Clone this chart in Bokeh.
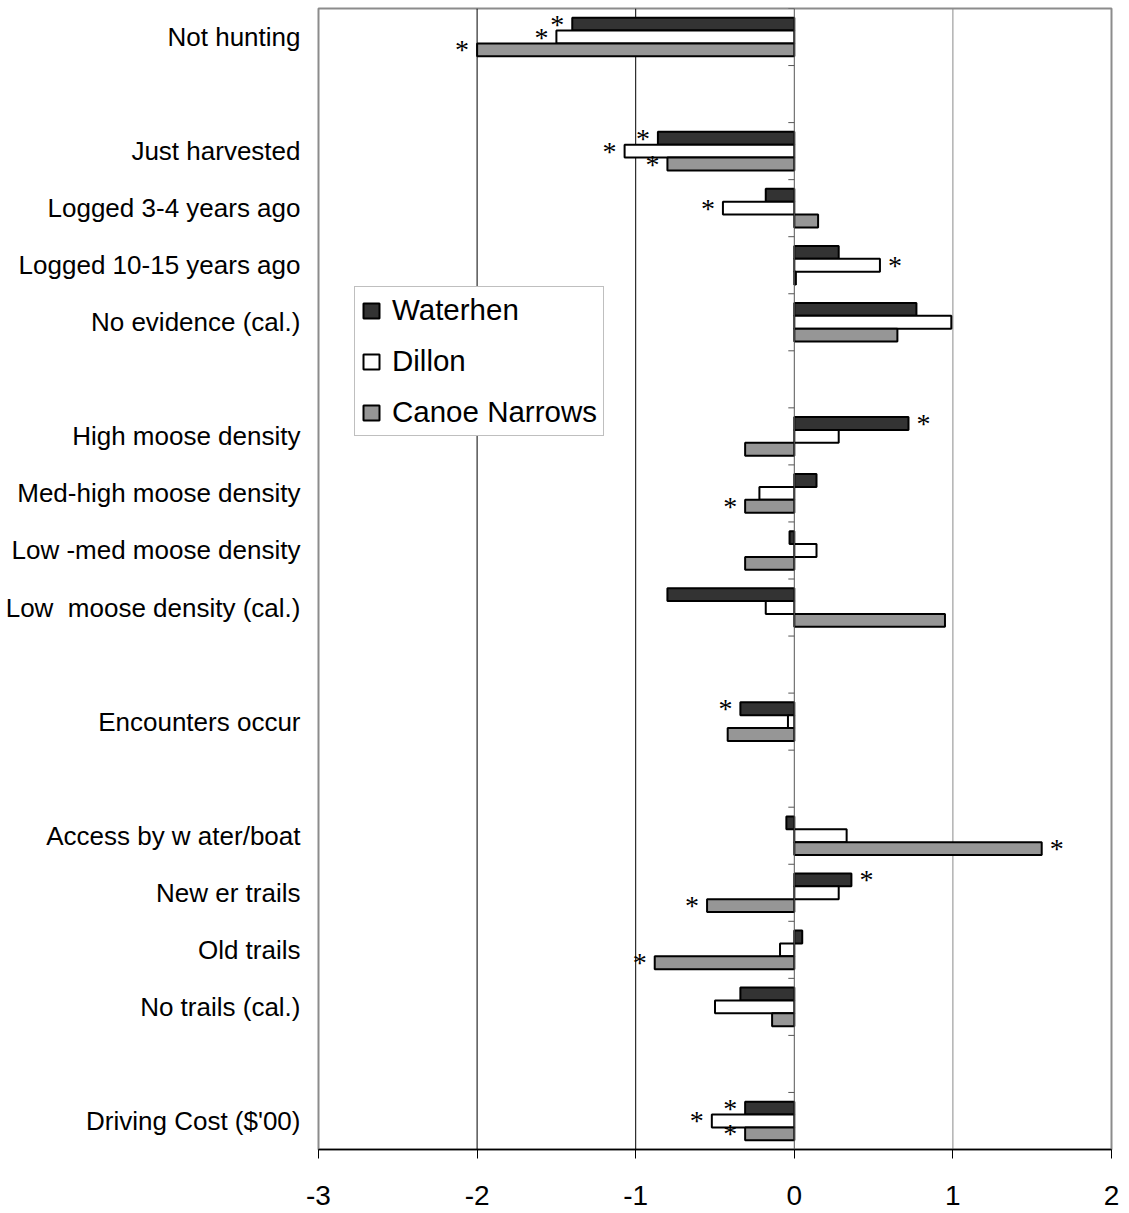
import math
from bokeh.plotting import figure
from bokeh.models import Range1d, FixedTicker, ColumnDataSource, Span
from bokeh.embed import file_html
from bokeh.resources import INLINE

# Rows from top to bottom ("" = empty spacer row)
rows = [
    "Not hunting", "",
    "Just harvested", "Logged 3-4 years ago", "Logged 10-15 years ago", "No evidence (cal.)", "",
    "High moose density", "Med-high moose density", "Low -med moose density", "Low\u00a0 moose density (cal.)", "",
    "Encounters occur", "",
    "Access by w ater/boat", "New er trails", "Old trails", "No trails (cal.)", "",
    "Driving Cost ($'00)",
]

series = ["Waterhen", "Dillon", "Canoe Narrows"]

# values for the 15 labelled rows, in order
waterhen = [-1.40, -0.86, -0.18, 0.28, 0.77, 0.72, 0.14, -0.03, -0.80, -0.34, -0.05, 0.36, 0.05, -0.34, -0.31]
dillon   = [-1.50, -1.07, -0.45, 0.54, 0.99, 0.28, -0.22, 0.14, -0.18, -0.04, 0.33, 0.28, -0.09, -0.50, -0.52]
canoe    = [-2.00, -0.80, 0.15, 0.01, 0.65, -0.31, -0.31, -0.31, 0.95, -0.42, 1.56, -0.55, -0.88, -0.14, -0.31]

# significance markers (*)
sig_waterhen = [1, 1, 0, 0, 0, 1, 0, 0, 0, 1, 0, 1, 0, 0, 1]
sig_dillon   = [1, 1, 1, 1, 0, 0, 0, 0, 0, 0, 0, 0, 0, 0, 1]
sig_canoe    = [1, 1, 0, 0, 0, 0, 1, 0, 0, 0, 1, 1, 1, 0, 1]

x_ticks = [-3, -2, -1, 0, 1, 2]
x_tick_labels = ["-3", "-2", "-1", "0", "1", "2"]
grid_values = [-2, -1, 1]
grid_colors = ["black", "black", "#8a8a8a"]

FONT = "Liberation Sans"
fills = ["#333333", "#ffffff", "#969696"]

labels = [r for r in rows if r]
ypos = [i for i, r in enumerate(rows) if r]

p = figure(width=1121, height=1212,
           x_range=Range1d(-3, 2), y_range=Range1d(len(rows) - 0.5, -0.5),
           output_backend="svg", toolbar_location=None,
           min_border_left=318, min_border_right=10, min_border_top=8, min_border_bottom=63)
p.background_fill_color = "white"
p.border_fill_color = "white"
p.outline_line_color = "#8c8c8c"
p.outline_line_width = 2

# grid
p.ygrid.visible = False
p.xgrid.visible = False
for gv, gc in zip(grid_values, grid_colors):
    p.add_layout(Span(location=gv, dimension="height", line_color=gc, line_width=1, level="underlay"))

# category axis crossing at x = 0 (line + small ticks at row boundaries)
p.add_layout(Span(location=0, dimension="height", line_color="#555555", line_width=1))
bounds = [i - 0.5 for i in range(len(rows) + 1)]
p.ray(x=[0] * len(bounds), y=bounds, length=6, length_units="screen", angle=math.pi,
      line_color="#555555", line_width=1)

bar_h = 0.226
offsets = [-bar_h, 0.0, bar_h]
all_vals = [waterhen, dillon, canoe]
all_sig = [sig_waterhen, sig_dillon, sig_canoe]

for name, vals, sig, off, fc in zip(series, all_vals, all_sig, offsets, fills):
    src = ColumnDataSource(dict(y=[y + off for y in ypos], v=vals))
    p.hbar(y="y", left=0, right="v", height=bar_h, source=src,
           fill_color=fc, line_color="black", line_width=2, legend_label=name)
    sx, sy, so = [], [], []
    for y, v, s in zip(ypos, vals, sig):
        if s:
            sx.append(v)
            sy.append(y + off)
            so.append(15 if v > 0 else -15)
    ssrc = ColumnDataSource(dict(x=sx, y=sy, xo=so, t=["*"] * len(sx)))
    p.text(x="x", y="y", text="t", x_offset="xo", y_offset=0, source=ssrc,
           text_align="center", text_baseline="middle",
           text_font_size="28px", text_color="black", text_font=FONT)

# x axis
p.xaxis.ticker = FixedTicker(ticks=x_ticks)
p.xaxis.major_label_overrides = {t: l for t, l in zip(x_ticks, x_tick_labels)}
p.xaxis.major_label_text_font = FONT
p.xaxis.major_label_text_font_size = "28px"
p.xaxis.major_label_text_color = "black"
p.xaxis.major_tick_out = 9
p.xaxis.major_tick_in = 0
p.xaxis.minor_tick_out = 0
p.xaxis.minor_tick_in = 0
p.xaxis.axis_line_color = "black"
p.xaxis.axis_line_width = 1.5
p.xaxis.major_tick_line_color = "black"
p.xaxis.major_label_standoff = 27

# category labels on the left
p.yaxis.ticker = FixedTicker(ticks=ypos)
p.yaxis.major_label_overrides = {y: l for y, l in zip(ypos, labels)}
p.yaxis.major_label_text_font = FONT
p.yaxis.major_label_text_font_size = "26px"
p.yaxis.major_label_text_color = "black"
p.yaxis.axis_line_color = None
p.yaxis.major_tick_line_color = None
p.yaxis.minor_tick_line_color = None
p.yaxis.major_label_standoff = 12

# legend
lg = p.legend[0]
lg.location = (36, 713)
lg.margin = 0
lg.label_text_font = FONT
lg.label_text_font_size = "29.5px"
lg.label_text_color = "black"
lg.glyph_width = 20
lg.glyph_height = 19
lg.label_standoff = 11
lg.label_height = 32
lg.spacing = 17
lg.padding = 6
lg.border_line_color = "#808080"
lg.border_line_width = 1
lg.background_fill_color = "white"
lg.background_fill_alpha = 1.0

open("out.html", "w").write(file_html(p, INLINE))
